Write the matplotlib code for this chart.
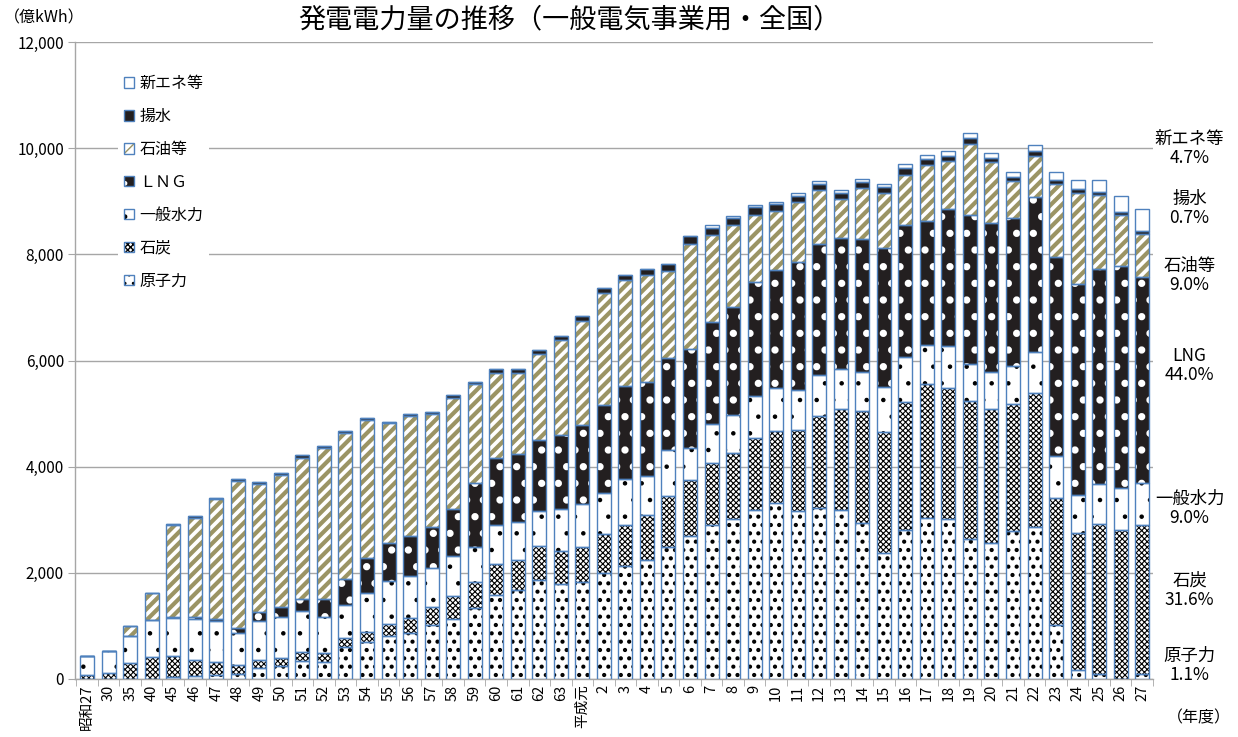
import numpy as np
import matplotlib

matplotlib.use("Agg")
import matplotlib.pyplot as plt
from matplotlib.legend_handler import HandlerTuple
from matplotlib.transforms import blended_transform_factory

plt.rcParams['font.family'] = ['Noto Sans CJK JP', 'DejaVu Sans']

# 年度 (category labels)
years = ["昭和27", "30", "35", "40", "45", "46", "47", "48", "49", "50",
         "51", "52", "53", "54", "55", "56", "57", "58", "59", "60",
         "61", "62", "63", "平成元", "2", "3", "4", "5", "6", "7",
         "8", "9", "10", "11", "12", "13", "14", "15", "16", "17",
         "18", "19", "20", "21", "22", "23", "24", "25", "26", "27"]

# 億kWh
nuclear = [0, 0, 0, 0, 31, 63, 75, 94, 200, 251,
           339, 314, 596, 690, 815, 865, 1016, 1129, 1329, 1580,
           1674, 1862, 1781, 1818, 2006, 2126, 2238, 2489, 2690, 2906,
           3018, 3191, 3318, 3168, 3221, 3191, 2944, 2382, 2816, 3041,
           3018, 2644, 2569, 2794, 2869, 1019, 172, 97, 0, 97]
coal = [80, 110, 295, 420, 402, 301, 238, 176, 157, 150,
        175, 181, 169, 188, 220, 289, 345, 432, 502, 583,
        564, 640, 627, 671, 721, 783, 859, 960, 1066, 1161,
        1236, 1340, 1348, 1521, 1730, 1887, 2097, 2262, 2397, 2524,
        2457, 2584, 2509, 2382, 2524, 2396, 2569, 2832, 2816, 2795]
hydro = [360, 425, 514, 690, 714, 765, 772, 595, 740, 771,
         765, 665, 633, 733, 808, 783, 733, 759, 658, 734,
         721, 658, 802, 815, 784, 853, 728, 858, 595, 734,
         712, 809, 824, 764, 779, 764, 749, 861, 861, 734,
         802, 697, 712, 726, 771, 779, 727, 741, 779, 796]
lng = [0, 0, 0, 0, 20, 37, 37, 94, 157, 189,
       226, 345, 483, 671, 728, 759, 771, 890, 1210, 1273,
       1286, 1336, 1392, 1486, 1643, 1756, 1768, 1744, 1869, 1918,
       2037, 2135, 2210, 2397, 2472, 2472, 2501, 2607, 2487, 2322,
       2569, 2808, 2794, 2786, 2921, 3753, 3969, 4052, 4180, 3892]
oil = [0, 0, 188, 508, 1730, 1875, 2264, 2772, 2426, 2489,
       2658, 2853, 2759, 2602, 2244, 2251, 2132, 2088, 1850, 1598,
       1517, 1630, 1787, 1963, 2119, 2000, 2025, 1630, 1982, 1647,
       1543, 1273, 1108, 1145, 1011, 734, 959, 1048, 936, 1064,
       914, 1349, 1153, 697, 772, 1378, 1723, 1401, 973, 796]
pumped = [0, 0, 0, 0, 30, 31, 31, 44, 32, 37,
          50, 31, 38, 38, 32, 38, 32, 44, 50, 69,
          69, 75, 75, 81, 94, 100, 107, 138, 135, 135,
          142, 135, 135, 105, 112, 112, 120, 113, 128, 112,
          97, 105, 75, 75, 90, 82, 75, 60, 53, 62]
new_energy = [0, 0, 0, 0, 0, 0, 0, 0, 0, 0,
              0, 0, 0, 0, 0, 0, 0, 0, 0, 0,
              0, 0, 0, 0, 0, 0, 0, 0, 0, 45,
              38, 52, 52, 60, 60, 60, 52, 60, 75, 75,
              83, 97, 98, 90, 112, 143, 172, 217, 299, 416]

# 平成27年度の構成比 (right-hand labels, top to bottom)
share_names = ["新エネ等", "揚水", "石油等", "LNG", "一般水力", "石炭", "原子力"]
share_pcts = ["4.7%", "0.7%", "9.0%", "44.0%", "9.0%", "31.6%", "1.1%"]
share_label_y = [9990, 8860, 7600, 5910, 3220, 1680, 260]

EDGE = "#4f81bd"
# (label, values, face, hatch, hatch colour, hatch linewidth), bottom to top
series = [
    ("原子力", nuclear, "white", "..", "black", 1.8),
    ("石炭", coal, "white", "xxxxxx", "black", 0.8),
    ("一般水力", hydro, "white", ".", "black", 0.8),
    ("ＬＮＧ", lng, "#231f20", ".", "white", 2.8),
    ("石油等", oil, "white", "///", "#9b9464", 3.0),
    ("揚水", pumped, "#231f20", None, "#231f20", 1.0),
    ("新エネ等", new_energy, "white", None, "white", 1.0),
]

fig = plt.figure(figsize=(12.38, 7.37), dpi=100)
ax = fig.add_axes([0.0606, 0.0787, 0.8707, 0.8643])

x = np.arange(len(years))
width = 0.65
bottom = np.zeros(len(years))
handles = {}
for label, vals, face, hatch, hcol, hlw in series:
    vals = np.array(vals, dtype=float)
    with plt.rc_context({"hatch.linewidth": hlw}):
        fill = ax.bar(x, vals, width, bottom=bottom, color=face, hatch=hatch,
                      edgecolor=hcol, linewidth=0, zorder=2)
        for p in fill:
            if hasattr(p, "set_hatch_linewidth"):
                p.set_hatch_linewidth(hlw)
    outline = ax.bar(x, vals, width, bottom=bottom, fill=False,
                     edgecolor=EDGE, linewidth=1.0, zorder=3)
    handles[label] = (fill, outline)
    bottom += vals

ax.set_xlim(-0.56, len(years) - 0.54)
ax.set_ylim(0, 12000)
ax.set_yticks(np.arange(0, 12001, 2000))
ax.set_yticklabels([f"{v:,}" for v in range(0, 12001, 2000)], fontsize=11)
ax.yaxis.grid(True, color="#a6a6a6", linewidth=1.0, zorder=0)
ax.set_axisbelow(True)
ax.tick_params(axis="y", length=5, color="#a6a6a6", pad=3)

ax.set_xticks(x)
ax.set_xticklabels(years, rotation=90, fontsize=10.5)
ax.tick_params(axis="x", length=0, pad=4)
ax.set_xticks(np.arange(len(years) + 1) - 0.5, minor=True)
ax.tick_params(axis="x", which="minor", length=5, color="#a6a6a6")

for side in ["top", "right"]:
    ax.spines[side].set_visible(False)
for side in ["left", "bottom"]:
    ax.spines[side].set_color("#a6a6a6")
    ax.spines[side].set_linewidth(1.0)

order = ["新エネ等", "揚水", "石油等", "ＬＮＧ", "一般水力", "石炭", "原子力"]
leg = ax.legend([handles[k] for k in order], order,
                handler_map={tuple: HandlerTuple(ndivide=1)},
                loc="upper left", bbox_to_anchor=(0.032, 0.971),
                frameon=True, framealpha=1.0, edgecolor="none",
                fontsize=11.5, handlelength=0.65, handleheight=0.65,
                handletextpad=0.3, labelspacing=1.0, borderpad=0.4)

trans = blended_transform_factory(ax.transAxes, ax.transData)
for name, pct, yv in zip(share_names, share_pcts, share_label_y):
    ax.text(1.034, yv, f"{name}\n{pct}", transform=trans, ha="center",
            va="center", fontsize=12.5, linespacing=1.1, clip_on=False)

fig.text(0.46, 0.973, "発電電力量の推移（一般電気事業用・全国）",
         ha="center", va="center", fontsize=19.5)
fig.text(0.003, 0.975, "（億kWh）", ha="left", va="center", fontsize=11.5)
fig.text(0.994, 0.026, "（年度）", ha="right", va="center", fontsize=11.5)

fig.savefig("out.png", dpi=100)
